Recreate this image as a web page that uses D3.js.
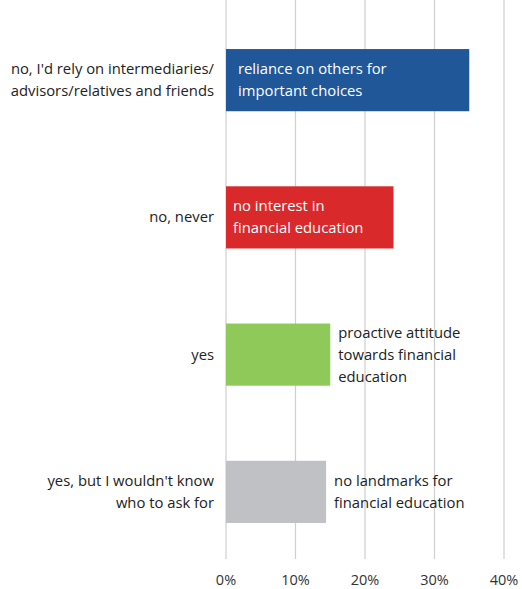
<!DOCTYPE html>
<html>
<head>
<meta charset="utf-8">
<script src="https://cdn.jsdelivr.net/npm/d3@7"></script>
<style>
  body { margin: 0; background: #fff; }
  text { font-family: "Open Sans", sans-serif; }
</style>
</head>
<body>
<div class="chart"></div>
<script>
// data
var categories = [
  ["no, I'd rely on intermediaries/", "advisors/relatives and friends"],
  ["no, never"],
  ["yes"],
  ["yes, but I wouldn't know", "who to ask for"]
];
var values = [35, 24.1, 15, 14.4];
var notes = [
  ["reliance on others for", "important choices"],
  ["no interest in", "financial education"],
  ["proactive attitude", "towards financial", "education"],
  ["no landmarks for", "financial education"]
];
var notesInside = [true, true, false, false];
var colors = ["#1f5799", "#d9292b", "#8fc95a", "#c0c1c5"];
var xTicks = [0, 10, 20, 30, 40];

var svgWidth = 522;
var svgHeight = 589;

var x0 = 226, x40 = 504;
var x = d3.scaleLinear()
  .domain([0, 40])
  .range([x0, x40]);

var y = d3.scaleBand()
  .domain(d3.range(categories.length))
  .range([12, 560])
  .paddingInner(0.547)
  .paddingOuter(0.27);

var svg = d3.select(".chart")
  .append("svg")
  .attr("width", svgWidth)
  .attr("height", svgHeight);

// vertical gridlines
svg.selectAll(".grid")
  .data(xTicks)
  .enter()
  .append("line")
  .attr("x1", d => x(d))
  .attr("x2", d => x(d))
  .attr("y1", 0)
  .attr("y2", 559)
  .attr("stroke", "#cfcfcf")
  .attr("stroke-width", 1.2);

// tick labels
svg.selectAll(".tick")
  .data(xTicks)
  .enter()
  .append("text")
  .attr("x", d => x(d))
  .attr("y", 585)
  .attr("text-anchor", "middle")
  .attr("font-size", 14.5)
  .attr("fill", "#333")
  .text(d => d + "%");

// bars
svg.selectAll(".bar")
  .data(values)
  .enter()
  .append("rect")
  .attr("x", x(0))
  .attr("y", (d, i) => y(i))
  .attr("width", d => x(d) - x(0))
  .attr("height", y.bandwidth())
  .attr("fill", (d, i) => colors[i]);

var lh = 22;
var fs = 14.8;

// category labels
categories.forEach(function(lines, i) {
  var cy = y(i) + y.bandwidth() / 2;
  var t = svg.append("text")
    .attr("text-anchor", "end")
    .attr("font-size", fs)
    .attr("fill", "#222");
  lines.forEach(function(l, j) {
    t.append("tspan")
      .attr("x", 214)
      .attr("y", cy + (j - (lines.length - 1) / 2) * lh + 5)
      .text(l);
  });
});

// bar notes
notes.forEach(function(lines, i) {
  var cy = y(i) + y.bandwidth() / 2;
  var inside = notesInside[i];
  var tx = inside ? x(0) + (i == 0 ? 12 : 7) : x(values[i]) + 8;
  var t = svg.append("text")
    .attr("font-size", fs)
    .attr("fill", inside ? "#fff" : "#222");
  lines.forEach(function(l, j) {
    t.append("tspan")
      .attr("x", tx)
      .attr("y", cy + (j - (lines.length - 1) / 2) * lh + 5)
      .text(l);
  });
});
</script>
</body>
</html>
